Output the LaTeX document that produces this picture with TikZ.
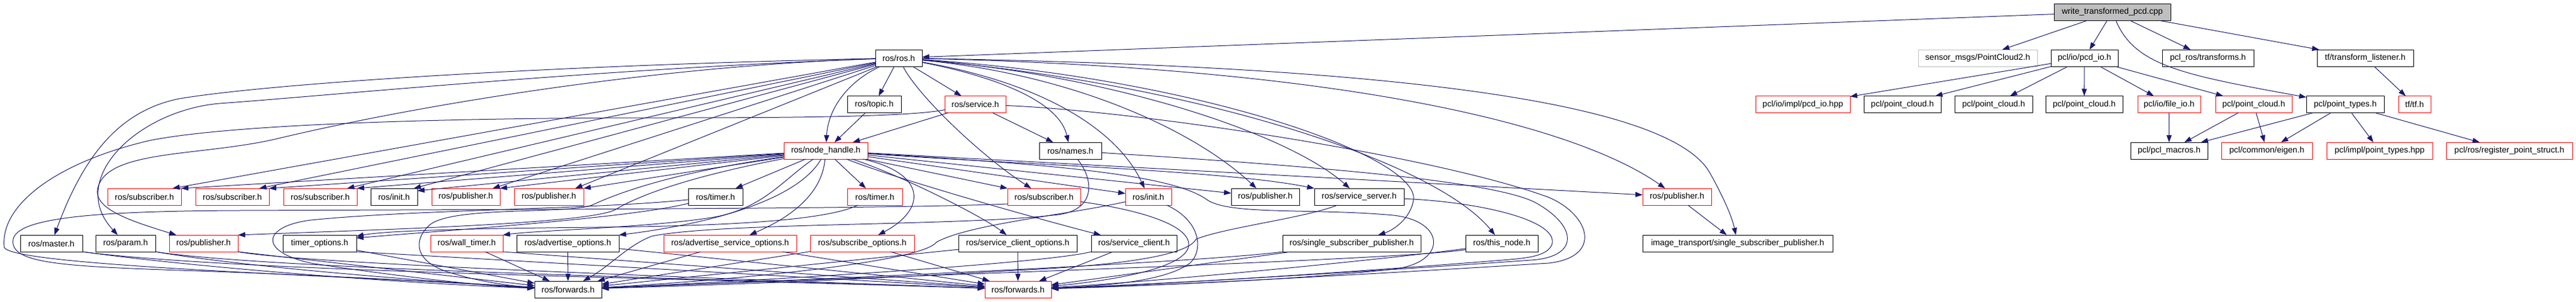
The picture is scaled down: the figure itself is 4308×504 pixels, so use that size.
\documentclass[tikz,border=0pt]{standalone}
\usepackage{fontspec}
\setmainfont{Liberation Sans}
\usetikzlibrary{arrows.meta}
\definecolor{edgecol}{RGB}{25,25,112}
\definecolor{grayfill}{RGB}{191,191,191}
\definecolor{lgray}{RGB}{191,191,191}
\begin{document}
\begin{tikzpicture}[x=1pt,y=-1pt,
  nb/.style={draw=black,line width=1pt,fill=white,minimum height=28pt,inner sep=0pt,outer sep=0pt,font=\fontsize{14}{16}\selectfont,text=black},
  rb/.style={nb,draw=red},
  gb/.style={nb,draw=lgray},
  tb/.style={nb,fill=grayfill},
  e/.style={draw=edgecol,line width=1pt,-{Triangle[length=12pt,width=8.5pt]}}]
\fill[white] (0,0) rectangle (4308,504);
\useasboundingbox (0,0) rectangle (4308,504);
% row 1
\node[tb,minimum width=195pt] (write) at (3532.5,20) {write\_transformed\_pcd.cpp};
% row 2
\node[nb,minimum width=78pt] (rosh) at (1503,97) {ros/ros.h};
\node[gb,minimum width=199pt] (sensor) at (3307.5,97) {sensor\_msgs/PointCloud2.h};
\node[nb,minimum width=112pt] (pcdio) at (3486,97) {pcl/io/pcd\_io.h};
\node[nb,minimum width=153pt] (pclrostf) at (3692.5,97) {pcl\_ros/transforms.h};
\node[nb,minimum width=161pt] (tflist) at (3955.5,97) {tf/transform\_listener.h};
% row 3
\node[nb,minimum width=90pt] (topic) at (1462,174.5) {ros/topic.h};
\node[rb,minimum width=102pt] (service) at (1631,174.5) {ros/service.h};
\node[rb,minimum width=158pt] (pcdhpp) at (3015,174.5) {pcl/io/impl/pcd\_io.hpp};
\node[nb,minimum width=129pt] (pc1) at (3181.5,174.5) {pcl/point\_cloud.h};
\node[nb,minimum width=130pt] (pc2) at (3334,174.5) {pcl/point\_cloud.h};
\node[nb,minimum width=129pt] (pc3) at (3485.5,174.5) {pcl/point\_cloud.h};
\node[rb,minimum width=105pt] (fileio) at (3627.5,174.5) {pcl/io/file\_io.h};
\node[rb,minimum width=128pt] (pc4) at (3769,174.5) {pcl/point\_cloud.h};
\node[nb,minimum width=130pt] (ptypes) at (3922,174.5) {pcl/point\_types.h};
\node[rb,minimum width=54pt] (tftf) at (4038,174.5) {tf/tf.h};
% row 4
\node[rb,minimum width=140pt] (nh) at (1381,252) {ros/node\_handle.h};
\node[nb,minimum width=104pt] (names) at (1790,252) {ros/names.h};
\node[nb,minimum width=129pt] (macros) at (3627.5,252) {pcl/pcl\_macros.h};
\node[rb,minimum width=152pt] (eigen) at (3791,252) {pcl/common/eigen.h};
\node[rb,minimum width=177pt] (ptypeshpp) at (3979.5,252) {pcl/impl/point\_types.hpp};
\node[rb,minimum width=211pt] (regps) at (4196.5,252) {pcl/ros/register\_point\_struct.h};
% row 5
\node[rb,minimum width=123pt] (sub1) at (241.5,329) {ros/subscriber.h};
\node[rb,minimum width=123pt] (sub2) at (388.5,329) {ros/subscriber.h};
\node[rb,minimum width=123pt] (sub3) at (535.5,329) {ros/subscriber.h};
\node[nb,minimum width=78pt] (init1) at (659,329) {ros/init.h};
\node[rb,minimum width=114pt] (pub1) at (779,329) {ros/publisher.h};
\node[rb,minimum width=116pt] (pub2) at (918,329) {ros/publisher.h};
\node[nb,minimum width=91pt] (timer1) at (1196.5,329) {ros/timer.h};
\node[rb,minimum width=92pt] (timer2) at (1463,329) {ros/timer.h};
\node[rb,minimum width=122pt] (sub4) at (1746,329) {ros/subscriber.h};
\node[rb,minimum width=77pt] (init2) at (1920.5,329) {ros/init.h};
\node[nb,minimum width=114pt] (pub3) at (2116,329) {ros/publisher.h};
\node[nb,minimum width=150pt] (sserver) at (2273,329) {ros/service\_server.h};
\node[rb,minimum width=115pt] (pub4) at (2804.5,329) {ros/publisher.h};
% row 6
\node[nb,minimum width=104pt] (master) at (86,407) {ros/master.h};
\node[nb,minimum width=100pt] (param) at (210,407) {ros/param.h};
\node[rb,minimum width=115pt] (pub5) at (340.5,407) {ros/publisher.h};
\node[nb,minimum width=123pt] (timeropt) at (534.5,407) {timer\_options.h};
\node[rb,minimum width=121pt] (walltimer) at (780.5,407) {ros/wall\_timer.h};
\node[nb,minimum width=171pt] (advopt) at (949.5,407) {ros/advertise\_options.h};
\node[rb,minimum width=222pt] (advsrvopt) at (1221,407) {ros/advertise\_service\_options.h};
\node[rb,minimum width=174pt] (subopt) at (1442,407) {ros/subscribe\_options.h};
\node[nb,minimum width=198pt] (scopt) at (1702,407) {ros/service\_client\_options.h};
\node[nb,minimum width=143pt] (sclient) at (1896.5,407) {ros/service\_client.h};
\node[nb,minimum width=231pt] (ssp) at (2260.5,407) {ros/single\_subscriber\_publisher.h};
\node[nb,minimum width=121pt] (thisnode) at (2511.5,407) {ros/this\_node.h};
\node[nb,minimum width=318pt] (itssp) at (2906,407) {image\_transport/single\_subscriber\_publisher.h};
% row 7
\node[nb,minimum width=112pt] (fw1) at (950,484) {ros/forwards.h};
\node[rb,minimum width=111pt] (fw2) at (1702.5,484) {ros/forwards.h};

% ---- pcl / tf part
\draw[e] (write) -- (rosh);
\draw[e] (write) -- (sensor);
\draw[e] (write) -- (pcdio);
\draw[e] (write) -- (pclrostf);
\draw[e] (write) -- (tflist);
\draw[e] (write) .. controls (3570,110) and (3650,125) .. (ptypes);
\draw[e] (pcdio) -- (pcdhpp);
\draw[e] (pcdio) -- (pc1);
\draw[e] (pcdio) -- (pc2);
\draw[e] (pcdio) -- (pc3);
\draw[e] (pcdio) -- (fileio);
\draw[e] (pcdio) -- (pc4);
\draw[e] (tflist) -- (tftf);
\draw[e] (fileio) -- (macros);
\draw[e] (pc4) -- (macros);
\draw[e] (pc4) -- (eigen);
\draw[e] (ptypes) -- (macros);
\draw[e] (ptypes) -- (eigen);
\draw[e] (ptypes) -- (ptypeshpp);
\draw[e] (ptypes) -- (regps);

% ---- ros/ros.h
\draw[e] (rosh) -- (topic);
\draw[e] (rosh) -- (service);
\draw[e] (rosh) .. controls (1420,135) and (1385,180) .. (nh);
\draw[e] (topic) -- (nh);
\draw[e] (service) -- (nh);
\draw[e] (service) -- (names);
\draw[e] (rosh) .. controls (1535,160) and (1640,260) .. (sub4);
\draw[e] (rosh) .. controls (1650,125) and (1770,165) .. (names);
\draw[e] (rosh) .. controls (1750,140) and (1870,220) .. (init2);
\draw[e] (rosh) .. controls (1800,125) and (2000,220) .. (pub3);
\draw[e] (rosh) .. controls (1850,125) and (2150,220) .. (sserver);
\draw[e] (rosh) .. controls (2000,130) and (2370,260) .. (2364,333) .. controls (2360,365) and (2330,385) .. (ssp);
\draw[e] (rosh) .. controls (2000,140) and (2400,270) .. (thisnode);
\draw[e] (rosh) .. controls (2300,115) and (2650,220) .. (pub4);
\draw[e] (rosh) .. controls (2400,112) and (2800,180) .. (2860,290) .. controls (2885,335) and (2897,365) .. (itssp);
\draw[e] (pub4) -- (itssp);
\draw[e] (rosh) .. controls (900,110) and (450,140) .. (300,165) .. controls (200,185) and (140,260) .. (master);
\draw[e] (rosh) .. controls (1000,115) and (550,160) .. (367,173) .. controls (230,185) and (110,300) .. (param);
\draw[e] (rosh) .. controls (1100,110) and (700,175) .. (459,233) .. controls (330,262) and (175,250) .. (163,317) .. controls (158,350) and (220,370) .. (pub5);
\draw[e] (rosh) -- ([xshift=47pt]sub1.north);
\draw[e] (rosh) -- ([xshift=45pt]sub2.north);
\draw[e] (rosh) -- ([xshift=45pt]sub3.north);
\draw[e] (rosh) -- ([xshift=-6pt]init1.north east);
\draw[e] (rosh) -- ([xshift=45pt]pub1.north);
\draw[e] (rosh) -- ([xshift=44pt]pub2.north);

% ---- ros/node_handle.h
\draw[e] (nh) -- (sub1.north east);
\draw[e] (nh) -- (sub2.north east);
\draw[e] (nh) -- (sub3.north east);
\draw[e] (nh) -- ([yshift=-4pt]init1.north east);
\draw[e] (nh) -- (pub1.north east);
\draw[e] (nh) -- (pub2.north east);
\draw[e] (nh) -- (timer1);
\draw[e] (nh) -- (timer2);
\draw[e] (nh) .. controls (1310,300) and (1280,345) .. (1200,362) .. controls (1100,380) and (900,385) .. (walltimer.north east);
\draw[e] (nh) .. controls (1340,325) and (1220,370) .. (advopt.north east);
\draw[e] (nh) .. controls (1375,320) and (1330,360) .. (advsrvopt);
\draw[e] (nh) .. controls (1550,290) and (1550,350) .. (subopt);
\draw[e] (nh) .. controls (1500,290) and (1640,360) .. (scopt);
\draw[e] (nh) .. controls (1500,300) and (1750,370) .. (sclient);
\draw[e] (nh) -- (sub4.north west);
\draw[e] (nh) -- (init2);
\draw[e] (nh) -- (pub3);
\draw[e] (nh) .. controls (1700,275) and (2050,285) .. (sserver.north west);
\draw[e] (nh) -- (pub4);
\draw[e] (nh) .. controls (1180,290) and (1080,320) .. (1030,350) .. controls (990,375) and (600,385) .. (pub5.north east);
\draw[e] (nh) .. controls (1150,285) and (1050,315) .. (990,343) .. controls (950,358) and (760,345) .. (720,375) .. controls (690,400) and (690,440) .. (760,458) .. controls (800,470) and (850,478) .. (fw1);
\draw[e] (nh) .. controls (1750,275) and (1960,290) .. (2020,335) .. controls (2060,360) and (2200,348) .. (2330,360) .. controls (2420,370) and (2420,440) .. (2330,450) .. controls (2150,470) and (1900,478) .. (fw2);

% ---- timers
\draw[e] (timer1) .. controls (1050,365) and (750,385) .. ([yshift=-5pt]timeropt.north east);
\draw[e] (timer2) .. controls (1380,370) and (1200,378) .. (1000,380) .. controls (800,382) and (650,385) .. ([yshift=-2pt]timeropt.north east);
\draw[e] (timer1) .. controls (1000,350) and (700,350) .. (520,368) .. controls (440,378) and (430,420) .. (520,440) .. controls (650,460) and (800,478) .. (fw1);

% ---- service, names, subscriber, init, server
\draw[e] ([yshift=-9pt]service.west) .. controls (1520,196) and (1300,197) .. (1100,197) .. controls (800,197) and (400,205) .. (250,235) .. controls (100,270) and (0,340) .. (7,413) .. controls (12,445) and (600,462) .. (fw1);
\draw[e] (service) .. controls (1900,185) and (2400,260) .. (2590,330) .. controls (2660,360) and (2680,430) .. (2590,440) .. controls (2350,455) and (1950,478) .. (fw2);
\draw[e] (names) .. controls (2150,275) and (2500,300) .. (2570,340) .. controls (2640,380) and (2640,430) .. (2560,435) .. controls (2350,450) and (1950,475) .. (fw2);
\draw[e] (names) .. controls (1830,300) and (1835,355) .. (1760,360) .. controls (1600,378) and (1200,372) .. (1090,395) .. controls (1050,410) and (1020,445) .. (fw1);
\draw[e] ([yshift=-12pt]sub4.west) .. controls (1500,349) and (900,350) .. (400,352) .. controls (150,353) and (30,365) .. (22,400) .. controls (15,440) and (100,445) .. (300,452) .. controls (600,462) and (800,476) .. (fw1);
\draw[e] (sub4) .. controls (1900,350) and (1990,375) .. (1988,410) .. controls (1985,450) and (1850,470) .. (fw2);
\draw[e] (init2) .. controls (2010,370) and (2012,420) .. (1990,440) .. controls (1950,470) and (1850,478) .. (fw2);
\draw[e] (init2) .. controls (1780,360) and (1620,375) .. (1566,405) .. controls (1540,440) and (1200,470) .. (fw1);
\draw[e] (sserver) .. controls (2480,338) and (2610,370) .. (2595,410) .. controls (2585,430) and (2550,432) .. (2500,436) .. controls (2300,452) and (1950,476) .. (fw2);
\draw[e] (sserver) .. controls (2180,365) and (2050,380) .. (2000,400) .. controls (1985,430) and (1850,445) .. (1700,452) .. controls (1400,470) and (1150,478) .. (fw1);

% ---- row 6 to forwards
\draw[e] (master.south east) .. controls (350,450) and (700,475) .. (fw1);
\draw[e] (master.south east) .. controls (400,455) and (1150,465) .. (fw2);
\draw[e] (param.south east) .. controls (400,445) and (700,470) .. (fw1);
\draw[e] (param.south east) .. controls (450,450) and (1150,465) .. (fw2);
\draw[e] (pub5.south east) -- (fw1);
\draw[e] (pub5.south east) .. controls (500,440) and (1100,462) .. (fw2);
\draw[e] (timeropt) -- (fw1);
\draw[e] (timeropt.south east) -- (fw2);
\draw[e] (walltimer) -- (fw1);
\draw[e] (walltimer.south east) -- (fw2);
\draw[e] (advopt) -- (fw1);
\draw[e] (advopt) -- (fw2);
\draw[e] (advsrvopt) -- (fw1);
\draw[e] (advsrvopt) -- (fw2);
\draw[e] (subopt) -- (fw1);
\draw[e] (subopt) -- (fw2);
\draw[e] (scopt) -- (fw1);
\draw[e] (scopt) -- (fw2);
\draw[e] (sclient.south west) .. controls (1750,440) and (1300,468) .. (fw1);
\draw[e] (sclient) -- (fw2);
\draw[e] (ssp.south west) .. controls (2000,440) and (1300,470) .. (fw1);
\draw[e] (ssp) -- (fw2);
\draw[e] (thisnode) .. controls (2350,435) and (1400,465) .. (fw1);
\draw[e] (thisnode) .. controls (2350,430) and (1950,470) .. (fw2);
\end{tikzpicture}
\end{document}
